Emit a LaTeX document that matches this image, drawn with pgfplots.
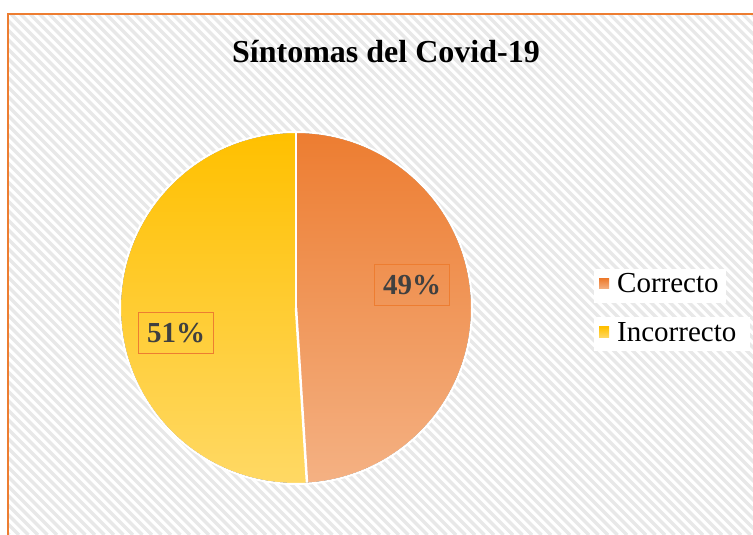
\documentclass[border=0pt]{standalone}
\usepackage{pgfplots}
\pgfplotsset{compat=1.18}
\usepackage{pgfplotstable}
\usepackage{fontspec}
\setmainfont{Liberation Serif}
\definecolor{orA}{HTML}{ED7D31}
\definecolor{orB}{HTML}{F4B183}
\definecolor{yeA}{HTML}{FFC000}
\definecolor{yeB}{HTML}{FFD966}
\definecolor{hatch}{HTML}{E8E8E8}
\definecolor{lbl}{HTML}{404040}
\pgfplotstableread{
cat value
Correcto 49
Incorrecto 51
}\piedata
\begin{document}
\begin{tikzpicture}[x=1pt,y=1pt]
% background with hatch
\fill[white] (0,0) rectangle (753,535);
\begin{scope}
\clip (8,-5) rectangle (760,521);
\foreach \c in {0,9.5,...,1300} {
  \draw[hatch, line width=3.2pt] (\c,0) -- (\c-600,600);
}
\end{scope}
\draw[orA, line width=2.2pt] (760,-5) -- (8,-5) -- (8,521) -- (760,521);
\begin{axis}[
  x=1pt, y=1pt, scale only axis,
  xmin=0, xmax=753, ymin=0, ymax=535,
  hide axis, clip=false,
]
\pgfplotstablegetelem{0}{value}\of\piedata \let\va\pgfplotsretval
\pgfplotstablegetelem{1}{value}\of\piedata \let\vb\pgfplotsretval
\pgfmathsetmacro{\aend}{90-\va*3.6}
% slices
\fill[top color=orA, bottom color=orB] (axis cs:296,227) -- ++(90:175pt) arc[start angle=90, end angle=\aend, radius=175pt] -- cycle;
\fill[top color=yeA, bottom color=yeB] (axis cs:296,227) -- ++(\aend:175pt) arc[start angle=\aend, end angle=-270, radius=175pt] -- cycle;
\draw[white, line width=2.5pt] (axis cs:296,227) -- ++(90:175pt);
\draw[white, line width=2.5pt] (axis cs:296,227) -- ++(\aend:175pt);
\draw[white, line width=2pt] (axis cs:296,227) circle[radius=176pt];
% data labels
\node[draw=orA, line width=1.3pt, text=lbl, font=\bfseries\fontsize{29}{31}\selectfont, inner xsep=8.5pt, inner ysep=10pt, text height=20pt, text depth=1pt] at (axis cs:412,250) {\va\%};
\node[draw=orA, line width=1.3pt, text=lbl, font=\bfseries\fontsize{29}{31}\selectfont, inner xsep=8.5pt, inner ysep=10pt, text height=20pt, text depth=1pt] at (axis cs:176,202) {\vb\%};
% title
\node[anchor=base, font=\bfseries\fontsize{32}{36}\selectfont] at (axis cs:386,472) {Síntomas del Covid-19};
% legend
\fill[white] (axis cs:594,232) rectangle (axis cs:726,266);
\fill[white] (axis cs:594,184) rectangle (axis cs:750,218);
\fill[top color=orA, bottom color=orB] (axis cs:599,246) rectangle (axis cs:609,256);
\fill[top color=yeA, bottom color=yeB] (axis cs:599,197) rectangle (axis cs:609,208);
\node[anchor=base west, inner sep=0pt, font=\fontsize{29}{31}\selectfont] at (axis cs:617,242) {Correcto};
\node[anchor=base west, inner sep=0pt, font=\fontsize{29}{31}\selectfont] at (axis cs:617,193) {Incorrecto};
\end{axis}
\pgfresetboundingbox
\path[use as bounding box] (0,0) rectangle (753,535);
\end{tikzpicture}
\end{document}
